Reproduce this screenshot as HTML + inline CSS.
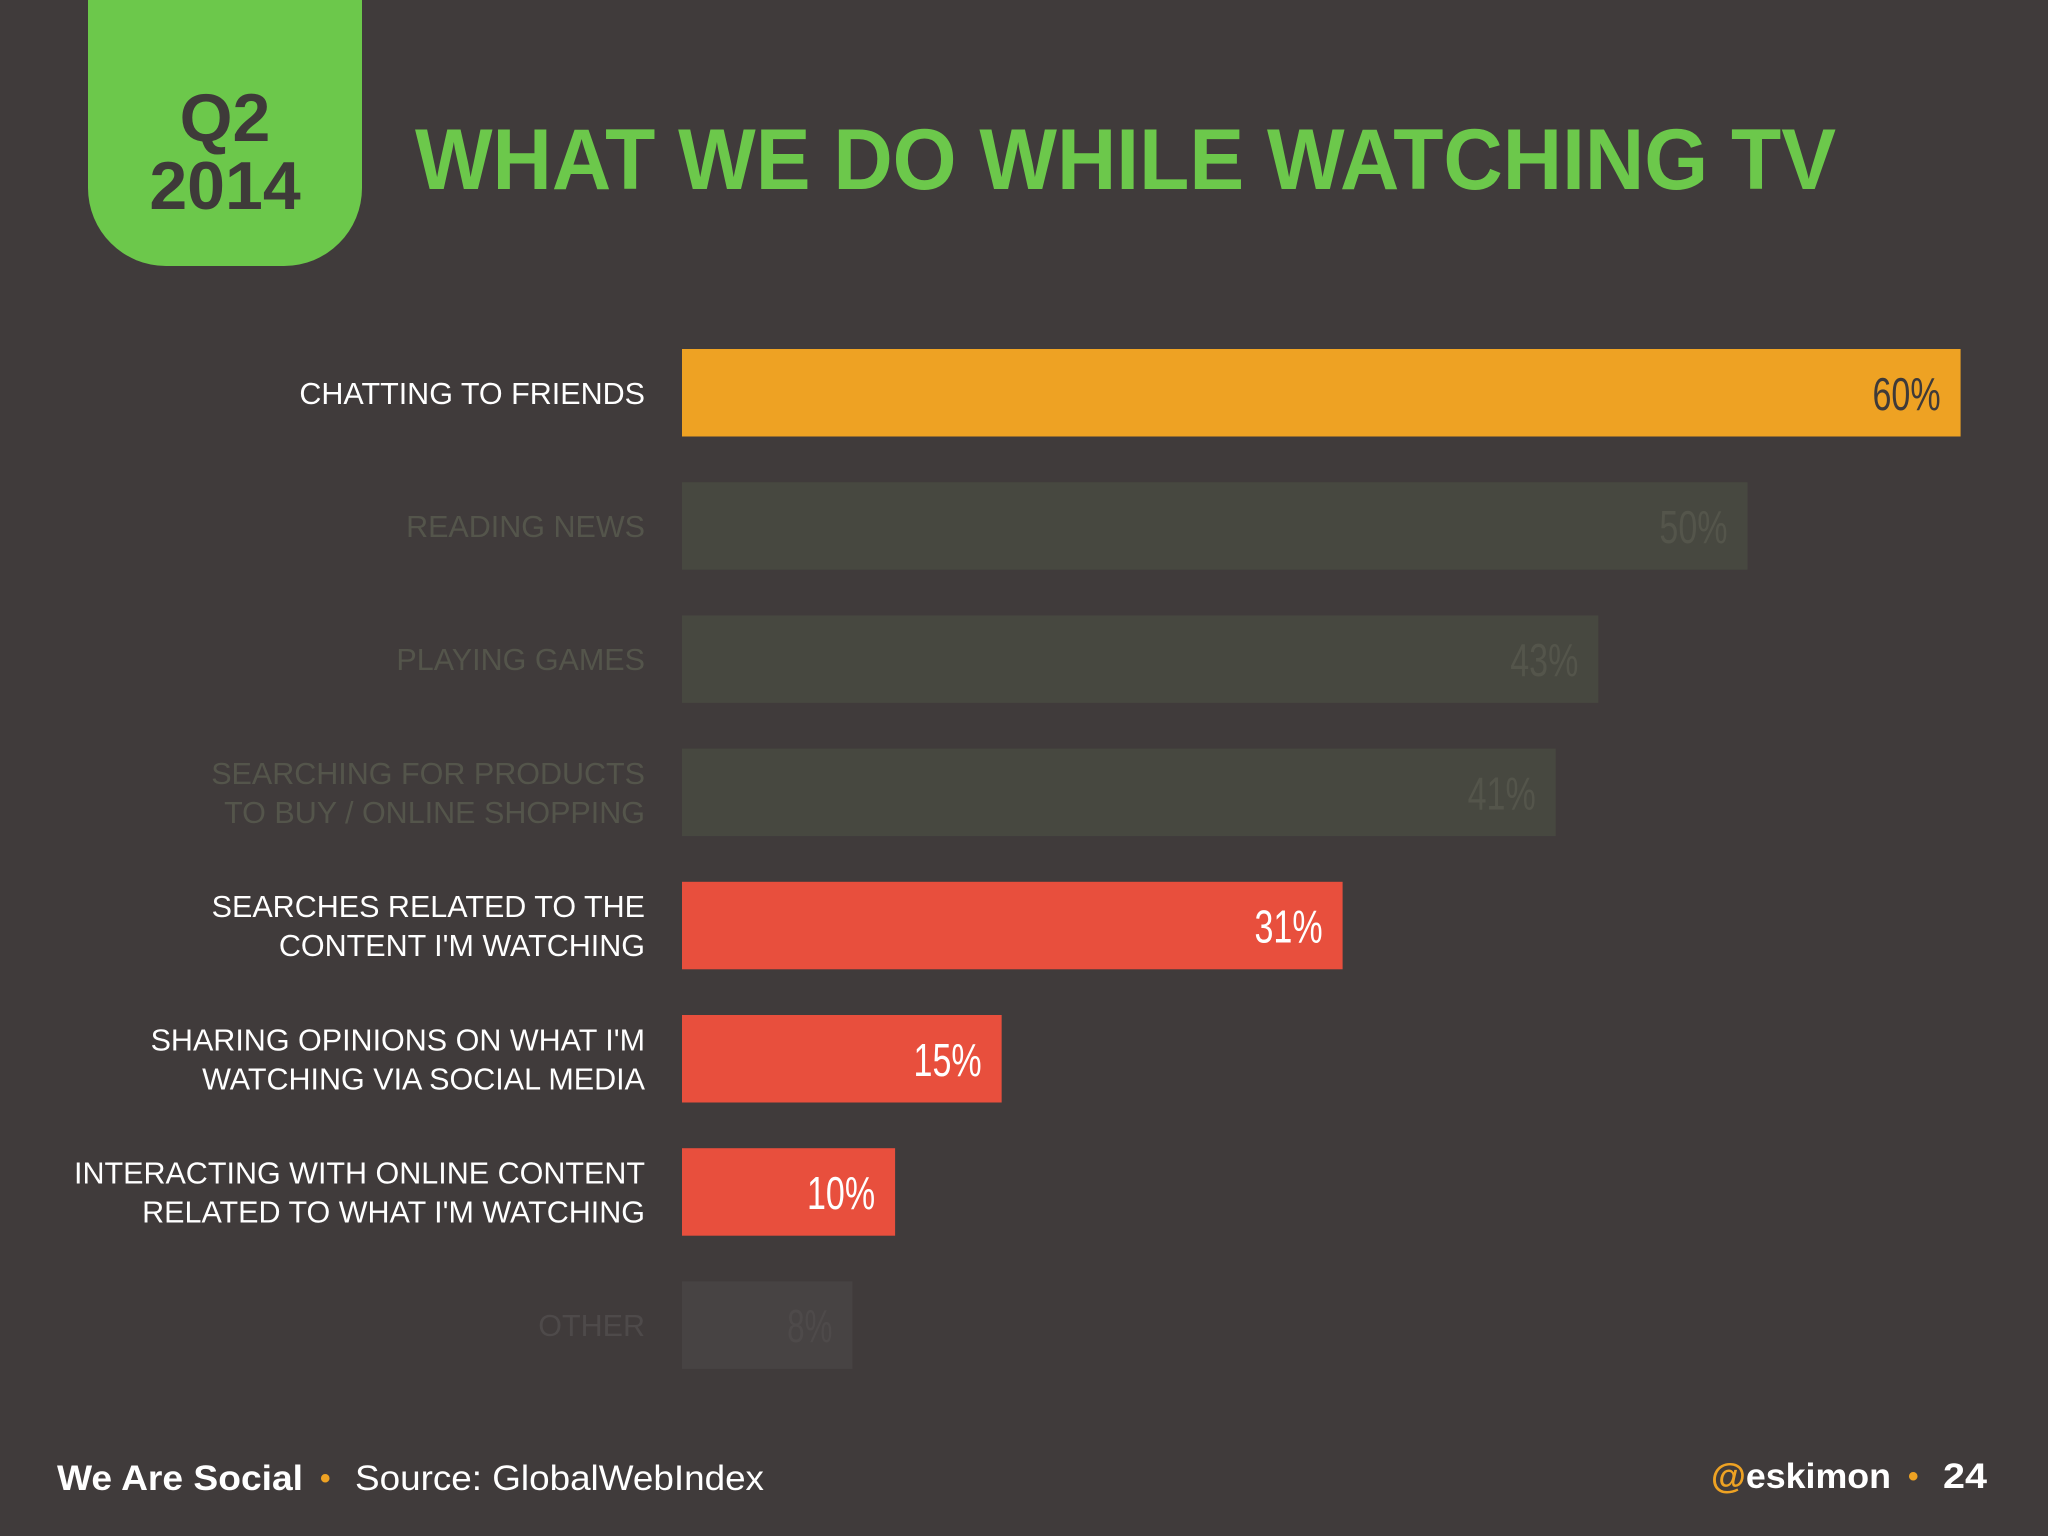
<!DOCTYPE html>
<html><head><meta charset="utf-8"><style>
html,body{margin:0;padding:0;background:#403b3b;}
svg{display:block}
</style></head><body>
<svg width="2048" height="1536" viewBox="0 0 2048 1536" xmlns="http://www.w3.org/2000/svg">
<rect width="2048" height="1536" fill="#403b3b"/>
<path d="M88,0 H362 V188 A78,78 0 0 1 284,266 H166 A78,78 0 0 1 88,188 Z" fill="#6cc84b"/>
<text x="225" y="141" text-anchor="middle" font-family="Liberation Sans, sans-serif" font-weight="bold" font-size="68" fill="#3e3a39">Q2</text>
<text x="225" y="209" text-anchor="middle" font-family="Liberation Sans, sans-serif" font-weight="bold" font-size="68" fill="#3e3a39">2014</text>
<text x="415" y="189" font-family="Liberation Sans, sans-serif" font-weight="bold" font-size="86" fill="#6cc84b" textLength="1421" lengthAdjust="spacingAndGlyphs">WHAT WE DO WHILE WATCHING TV</text>
<g id="bars"></g>
<text x="57" y="1490" font-family="Liberation Sans, sans-serif" font-weight="bold" font-size="35" fill="#ffffff" textLength="246" lengthAdjust="spacingAndGlyphs">We Are Social</text>
<text x="320" y="1488" font-family="Liberation Sans, sans-serif" font-weight="bold" font-size="30" fill="#eea223">•</text>
<text x="355" y="1490" font-family="Liberation Sans, sans-serif" font-size="35" fill="#ffffff" textLength="409" lengthAdjust="spacingAndGlyphs">Source: GlobalWebIndex</text>
<text x="1711" y="1488" font-family="Liberation Sans, sans-serif" font-weight="bold" font-size="35" fill="#ffffff" textLength="180" lengthAdjust="spacingAndGlyphs"><tspan fill="#eea223">@</tspan>eskimon</text>
<text x="1908" y="1486" font-family="Liberation Sans, sans-serif" font-weight="bold" font-size="30" fill="#eea223">•</text>
<text x="1943" y="1488" font-family="Liberation Sans, sans-serif" font-weight="bold" font-size="35" fill="#ffffff" textLength="44" lengthAdjust="spacingAndGlyphs">24</text>
</svg>
<script>
const categories = [["CHATTING TO FRIENDS"],["READING NEWS"],["PLAYING GAMES"],["SEARCHING FOR PRODUCTS","TO BUY / ONLINE SHOPPING"],["SEARCHES RELATED TO THE","CONTENT I'M WATCHING"],["SHARING OPINIONS ON WHAT I'M","WATCHING VIA SOCIAL MEDIA"],["INTERACTING WITH ONLINE CONTENT","RELATED TO WHAT I'M WATCHING"],["OTHER"]];
const values = [60,50,43,41,31,15,10,8];
const highlight = ["orange","faded","faded","faded","red","red","red","other"];
const NS="http://www.w3.org/2000/svg";
const x0=682, perPct=21.31, y0=349, step=133.2, bh=87.5;
function xScale(v){return x0+v*perPct;}
function yScale(i){return y0+i*step;}
const fills={orange:"#eea223",red:"#e84f3d",faded:"#474840",other:"#474343"};
const txt={orange:"#ffffff",red:"#ffffff",faded:"#54554b",other:"#4e4a4a"};
const vtxt={orange:"#3e3a39",red:"#ffffff",faded:"#54554b",other:"#4e4a4a"};
const g=document.getElementById("bars");
values.forEach((v,i)=>{
  const h=highlight[i], y=yScale(i);
  const r=document.createElementNS(NS,"rect");
  r.setAttribute("x",x0);r.setAttribute("y",y);
  r.setAttribute("width",xScale(v)-x0);r.setAttribute("height",bh);
  r.setAttribute("fill",fills[h]);
  
  
  g.appendChild(r);
  const label=v+"%";
  const vt=document.createElementNS(NS,"text");
  vt.setAttribute("x",xScale(v)-20);vt.setAttribute("y",y+bh/2+17);
  vt.setAttribute("text-anchor","end");
  vt.setAttribute("font-family","Liberation Sans Narrow, Liberation Sans, sans-serif");
  vt.setAttribute("font-size","46");vt.setAttribute("fill",vtxt[h]);
  vt.setAttribute("textLength",label.length*22.7);
  vt.setAttribute("lengthAdjust","spacingAndGlyphs");
  vt.textContent=label;
  
  
  g.appendChild(vt);
  const lines=categories[i];
  lines.forEach((ln,j)=>{
    const t=document.createElementNS(NS,"text");
    const yy=y+bh/2+11+(j-(lines.length-1)/2)*39;
    t.setAttribute("x",645);t.setAttribute("y",yy);
    t.setAttribute("text-anchor","end");
    t.setAttribute("font-family","Liberation Sans, sans-serif");
    t.setAttribute("font-size","30.5");t.setAttribute("fill",txt[h]);
    t.textContent=ln;
    
    
    g.appendChild(t);
  });
});
</script>
</body></html>
